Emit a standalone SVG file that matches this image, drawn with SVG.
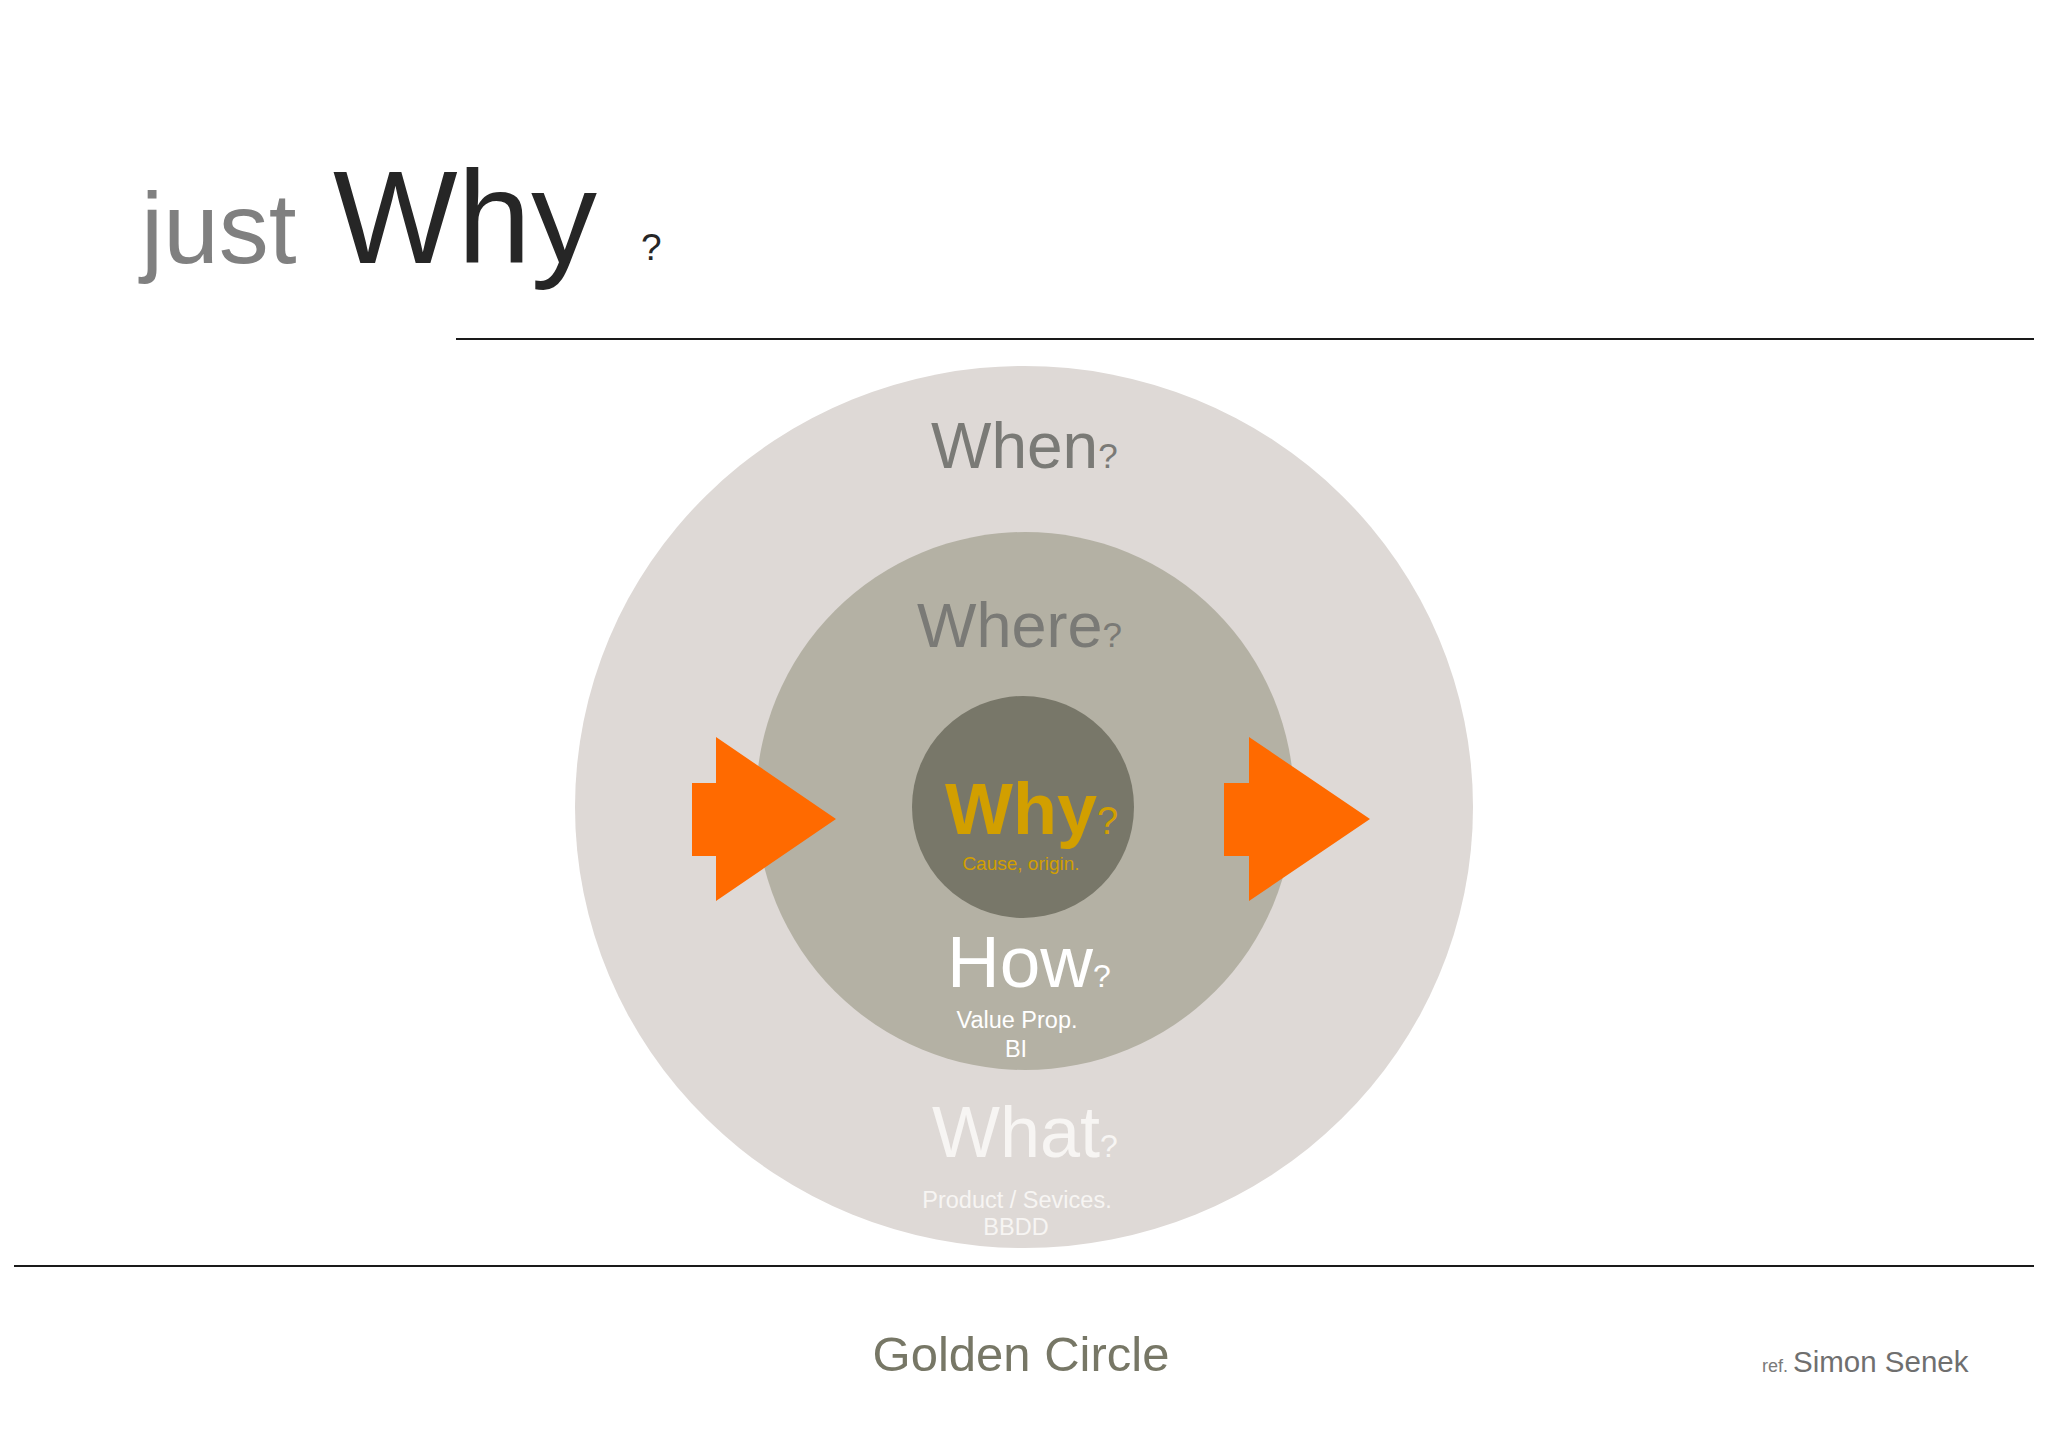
<svg xmlns="http://www.w3.org/2000/svg" width="2048" height="1453" viewBox="0 0 2048 1453">
<style>
text{font-family:"Liberation Sans",Arial,sans-serif}
.rule{stroke:#1a1a1a;stroke-width:2.2}
.arrow{fill:#ff6a00}
.grey{fill:#7a7a76}
.white{fill:#ffffff}
.faint{fill:#f7f5f3}
.gold{fill:#d29f00}
</style>
<rect width="2048" height="1453" fill="#ffffff"/>
<g id="title">
<text x="141" y="263" font-size="100" fill="#808080">just</text>
<text x="333" y="263" font-size="132" fill="#262626">Why</text>
<text x="641" y="260" font-size="37" fill="#262626">?</text>
</g>
<line class="rule" x1="456" y1="339" x2="2034" y2="339"/>
<line class="rule" x1="14" y1="1266" x2="2034" y2="1266"/>
<g id="when">
<ellipse cx="1024" cy="807" rx="449" ry="441" fill="#ded9d6"/>
<text x="931" y="468" font-size="64" class="grey">When<tspan font-size="35">?</tspan></text>
</g>
<g id="where">
<circle cx="1025" cy="801" r="269" fill="#b4b1a4"/>
<text x="917" y="647" font-size="63" class="grey">Where<tspan font-size="35">?</tspan></text>
</g>
<g id="why">
<circle cx="1023" cy="807" r="111" fill="#787769"/>
<text x="945" y="834" font-size="72" font-weight="bold" class="gold">Why<tspan font-size="38" font-weight="normal">?</tspan></text>
<text x="1021" y="870" font-size="19" text-anchor="middle" class="gold">Cause, origin.</text>
</g>
<g id="how">
<text x="947" y="987" font-size="73" class="white">How<tspan font-size="32">?</tspan></text>
<text x="1017" y="1028" font-size="23.5" text-anchor="middle" class="white">Value Prop.</text>
<text x="1016" y="1057" font-size="23.5" text-anchor="middle" class="white">BI</text>
</g>
<g id="what">
<text x="932" y="1157" font-size="72" class="faint">What<tspan font-size="32">?</tspan></text>
<text x="1017" y="1208" font-size="23.5" text-anchor="middle" class="faint">Product / Sevices.</text>
<text x="1016" y="1235" font-size="23.5" text-anchor="middle" class="faint">BBDD</text>
</g>
<g id="connectors">
<polygon class="arrow" points="692,783 716,783 716,737 836,819 716,901 716,856 692,856"/>
<polygon class="arrow" points="1224,783 1249,783 1249,737 1370,819 1249,901 1249,856 1224,856"/>
</g>
<g id="footer">
<text x="1021" y="1371" font-size="49" text-anchor="middle" fill="#777766">Golden Circle</text>
<text x="1762" y="1372" font-size="18" fill="#7a7a7a">ref. <tspan font-size="29.5" fill="#6f6f6f">Simon Senek</tspan></text>
</g>
</svg>
